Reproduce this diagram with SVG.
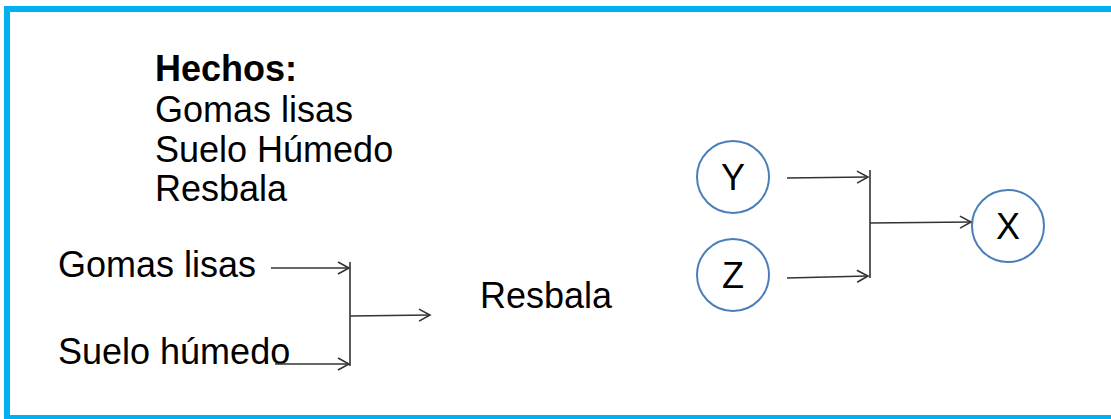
<svg xmlns="http://www.w3.org/2000/svg" width="1111" height="419" viewBox="0 0 1111 419">
<style>
text{font-family:"Liberation Sans",Arial,sans-serif;fill:#000}
.t{font-size:36px}
.c{fill:#fff;stroke:#4a7ebb;stroke-width:2}
.l{font-size:36px;text-anchor:middle}
.e{stroke:#333;stroke-width:1.6;fill:none}
</style>
<defs>
<marker id="a" markerWidth="14" markerHeight="14" refX="12" refY="7" orient="auto" markerUnits="userSpaceOnUse">
<path d="M1,1 L12,7 L1,13" fill="none" stroke="#333" stroke-width="1.6"/>
</marker>
</defs>
<rect x="7" y="9" width="1107" height="409" fill="#fff" stroke="#00b0f0" stroke-width="6"/>
<g id="hechos">
<text class="t" x="155" y="81" font-weight="bold" font-size="35">Hechos:</text>
<text class="t" x="155" y="122" font-size="35.5">Gomas lisas</text>
<text class="t" x="155" y="162" font-size="35.5">Suelo Húmedo</text>
<text class="t" x="155" y="201" font-size="35.5">Resbala</text>
</g>
<g id="gomas"><text class="t" x="58" y="277">Gomas lisas</text></g>
<g id="suelo"><text class="t" x="58" y="364">Suelo húmedo</text></g>
<g id="resbala"><text class="t" x="480" y="308">Resbala</text></g>
<g id="nY"><circle class="c" cx="733" cy="177" r="36"/><text class="l" x="733" y="190">Y</text></g>
<g id="nZ"><circle class="c" cx="733" cy="275" r="36"/><text class="l" x="733" y="288">Z</text></g>
<g id="nX"><circle class="c" cx="1008" cy="226" r="36"/><text class="l" x="1008" y="239">X</text></g>
<g id="connectors">
<path class="e" d="M271,268 H349" marker-end="url(#a)"/>
<path class="e" d="M275,364 H349" marker-end="url(#a)"/>
<path class="e" d="M350,262 V366"/>
<path class="e" d="M350,316 L430,315" marker-end="url(#a)"/>
<path class="e" d="M787,178 L868,177" marker-end="url(#a)"/>
<path class="e" d="M787,278 L868,276" marker-end="url(#a)"/>
<path class="e" d="M870,170 V278"/>
<path class="e" d="M870,223 L971,222" marker-end="url(#a)"/>
</g>
</svg>
